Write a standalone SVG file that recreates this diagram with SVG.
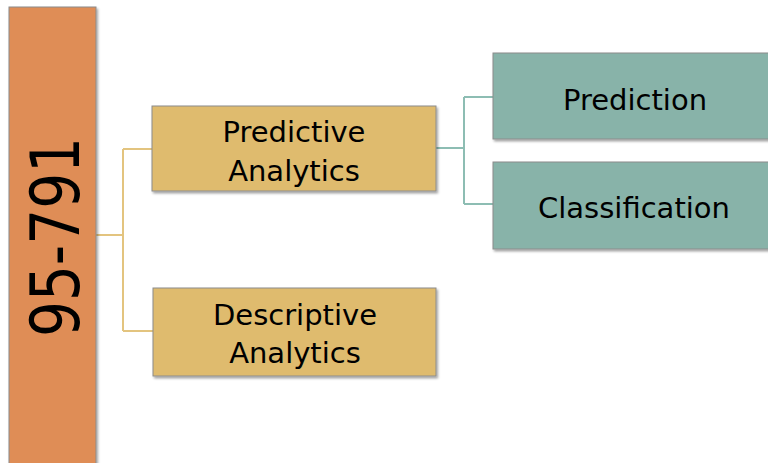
<svg xmlns="http://www.w3.org/2000/svg" width="768" height="463" viewBox="0 0 768 463">
<style>
.box{stroke:#8c8c8c;stroke-width:1;filter:url(#sh)}
.y{fill:#DFBB6E}
.t{fill:#88B3A9}
.o{fill:#DF8D57}
.lbl{font-family:"DejaVu Sans","Liberation Sans",sans-serif;font-size:29px;fill:#000;text-anchor:middle}
.cy{fill:none;stroke:#E3C47F;stroke-width:2}
.ct{fill:none;stroke:#8DBDB3;stroke-width:2}
</style>
<defs>
<filter id="sh" x="-5%" y="-5%" width="115%" height="120%">
<feDropShadow dx="1.5" dy="2" stdDeviation="1.2" flood-color="#000" flood-opacity="0.35"/>
</filter>
</defs>
<rect width="768" height="463" fill="#fff"/>
<g id="connectors">
<path class="cy" d="M96 235H123M123 149V331M123 149H153M123 331H153"/>
<path class="ct" d="M436 148H464M464 97V204M464 97H493M464 204H493"/>
</g>
<g id="course">
<rect class="box o" x="9" y="7" width="87" height="470"/>
<text transform="translate(79 237) rotate(-90)" font-family="'DejaVu Sans','Liberation Sans',sans-serif" font-size="67" text-anchor="middle" textLength="200" lengthAdjust="spacingAndGlyphs">95-791</text>
</g>
<g id="predictive">
<rect class="box y" x="152" y="106" width="284" height="85"/>
<text class="lbl" x="294" y="142">Predictive</text>
<text class="lbl" x="294" y="181">Analytics</text>
</g>
<g id="descriptive">
<rect class="box y" x="153" y="288" width="283" height="88"/>
<text class="lbl" x="295" y="325">Descriptive</text>
<text class="lbl" x="295" y="363">Analytics</text>
</g>
<g id="prediction">
<rect class="box t" x="493" y="53" width="285" height="86"/>
<text class="lbl" x="635" y="110">Prediction</text>
</g>
<g id="classification">
<rect class="box t" x="493" y="162" width="285" height="87"/>
<text class="lbl" x="634" y="218">Classification</text>
</g>
</svg>
